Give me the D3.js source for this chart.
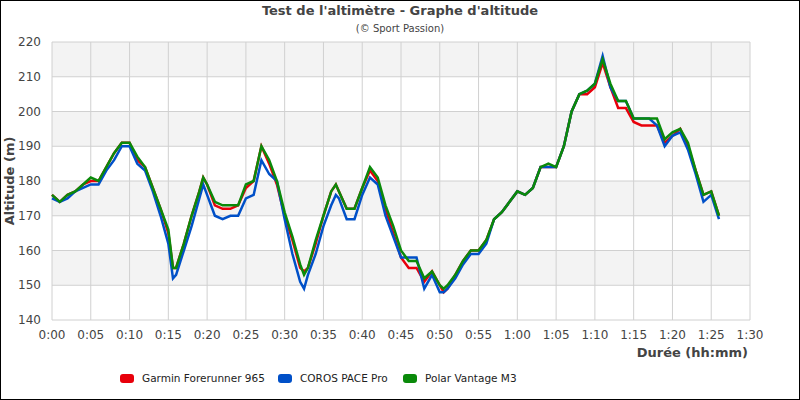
<!DOCTYPE html>
<html><head><meta charset="utf-8">
<script src="https://cdn.jsdelivr.net/npm/d3@7"></script>
<style>body{margin:0;background:#fff}svg{font-family:"DejaVu Sans",sans-serif}</style>
</head><body><svg id="c" width="800" height="400"></svg>
<script>
const minutes = [0,1,2,3,4,5,6,7,8,9,10,11,12,13,14,15,15.6,16,17,18,19,19.5,20,21,22,23,24,25,26,27,28,29,30,31,32,32.5,33,34,35,36,36.6,37,38,39,40,41,42,43,44,45,46,47,48,49,50,50.5,51,52,53,54,55,56,57,58,59,60,61,62,63,64,65,66,67,68,69,70,71,72,73,74,75,76,77,78,79,80,81,82,83,84,85,86];
const garmin = [176,174,176,177,179,180,180,184,188,191,191,186,184,178,172,165,155,155,162,170,177,181,179,173,172,172,173,178,180,190,185,179,170,163,155,154,155,162,170,177,179,177,172,172,178,183,180,172,165,158,155,155,151,154,150,148,149,153,157,160,160,163,169,171,174,177,176,178,184,184,184,190,200,205,205,207,214,207,201,201,197,196,196,196,191,193,195,190,183,176,177,170];
const coros = [175,174,175,177,178,179,179,183,186,190,190,185,183,177,170,162,152,153,160,167,175,179,176,170,169,170,170,175,176,186,182,180,169,159,151,149,153,159,167,173,176,175,169,169,176,181,179,170,164,158,158,158,149,153,148,148,149,152,156,159,159,162,169,171,174,177,176,178,184,184,184,190,200,205,206,208,216,207,203,203,198,198,198,196,190,193,194,189,182,174,176,169];
const polar = [176,174,176,177,179,181,180,184,188,191,191,187,184,178,172,166,155,155,162,170,177,181,179,174,173,173,173,179,180,190,186,180,171,164,156,153,155,163,170,177,179,177,172,172,178,184,181,173,167,160,157,157,152,154,150,149,150,153,157,160,160,163,169,171,174,177,176,178,184,185,184,190,200,205,206,208,215,208,203,203,198,198,198,198,192,194,195,191,183,176,177,170];
const seriesNames = ["Garmin Forerunner 965","COROS PACE Pro","Polar Vantage M3"];
const colors = ["#e8000b","#0050c8","#0a8a0a"];
const xTickLabels = ["0:00","0:05","0:10","0:15","0:20","0:25","0:30","0:35","0:40","0:45","0:50","0:55","1:00","1:05","1:10","1:15","1:20","1:25","1:30"];
const yTicks = [140,150,160,170,180,190,200,210,220];

const svg = d3.select("#c");
svg.append("rect").attr("x",0.5).attr("y",0.5).attr("width",799).attr("height",399).attr("fill","#fff").attr("stroke","#000");
const L=52,R=750,T=42,B=320;
const x = d3.scaleLinear().domain([0,90]).range([L,R]);
const y = d3.scaleLinear().domain([140,220]).range([B,T]);
for(let i=0;i<yTicks.length-1;i++){
  if(i%2===1) svg.append("rect").attr("x",L).attr("width",R-L).attr("y",y(yTicks[i+1])).attr("height",y(yTicks[i])-y(yTicks[i+1])).attr("fill","#f3f3f3");
}
const g = svg.append("g");
xTickLabels.forEach((t,i)=>{ g.append("line").attr("x1",x(i*5)).attr("x2",x(i*5)).attr("y1",T).attr("y2",B).attr("stroke","#d0d0d0");
 svg.append("text").attr("x",x(i*5)).attr("y",B+19).attr("text-anchor","middle").attr("font-size",12).attr("fill","#444").text(t);});
yTicks.forEach(v=>{ g.append("line").attr("x1",L).attr("x2",R).attr("y1",y(v)).attr("y2",y(v)).attr("stroke","#d0d0d0");
 svg.append("text").attr("x",L-11).attr("y",y(v)+4).attr("text-anchor","end").attr("font-size",12).attr("fill","#444").text(v);});
const line = d3.line().x(d=>x(d[0])).y(d=>y(d[1])).curve(d3.curveLinear);
[garmin,coros,polar].forEach((s,i)=>{
  svg.append("path").attr("d",line(minutes.map((m,j)=>[m,s[j]]))).attr("fill","none").attr("stroke",colors[i]).attr("stroke-width",2.5).attr("stroke-linejoin","miter");
});
svg.append("text").attr("x",400).attr("y",15).attr("text-anchor","middle").attr("font-size",13).attr("font-weight","bold").attr("fill","#444").text("Test de l'altimètre - Graphe d'altitude");
svg.append("text").attr("x",400).attr("y",32).attr("text-anchor","middle").attr("font-size",10).attr("fill","#444").text("(© Sport Passion)");
svg.append("text").attr("transform",`translate(14,${(T+B)/2}) rotate(-90)`).attr("text-anchor","middle").attr("font-size",13).attr("font-weight","bold").attr("fill","#444").text("Altitude (m)");
svg.append("text").attr("x",748).attr("y",357).attr("text-anchor","end").attr("font-size",13).attr("font-weight","bold").attr("fill","#444").text("Durée (hh:mm)");
const lx=[120,278,403];
seriesNames.forEach((n,i)=>{
  svg.append("rect").attr("x",lx[i]).attr("y",374).attr("width",14).attr("height",9).attr("rx",3).attr("fill",colors[i]);
  svg.append("text").attr("x",lx[i]+22).attr("y",382).attr("font-size",10.5).attr("fill","#222").text(n);
});
</script></body></html>
